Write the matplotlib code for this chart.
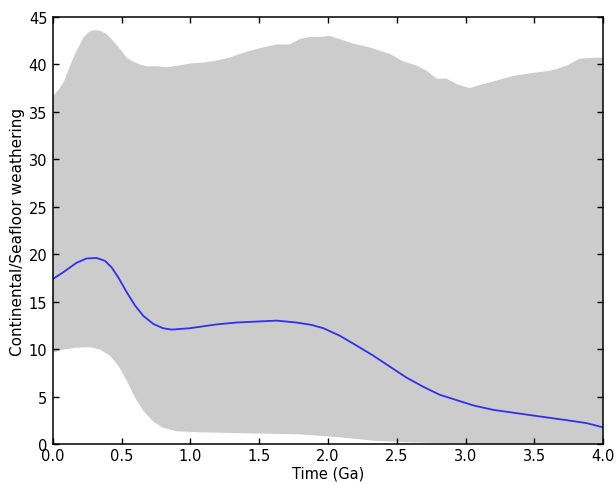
import matplotlib
matplotlib.use("Agg")
import matplotlib.pyplot as plt

# Upper envelope of the weathering ratio (time in Ga, value)
upper_t = [0.0, 0.04, 0.077, 0.11, 0.148, 0.185, 0.22, 0.26, 0.29, 0.318, 0.35, 0.39,
           0.43, 0.46, 0.50, 0.536, 0.584, 0.63, 0.68, 0.75, 0.83, 0.92, 1.0,
           1.10, 1.19, 1.28, 1.36, 1.45, 1.53, 1.63, 1.72, 1.76, 1.80, 1.87, 1.95,
           2.01, 2.10, 2.18, 2.30, 2.45, 2.55, 2.64, 2.72, 2.79, 2.86, 2.94,
           3.03, 3.10, 3.20, 3.35, 3.49, 3.60, 3.66, 3.74, 3.83, 3.93, 4.0]
upper_v = [36.7, 37.3, 38.1, 39.3, 40.7, 41.8, 42.8, 43.4, 43.6, 43.6, 43.5, 43.2,
           42.6, 42.1, 41.4, 40.7, 40.3, 40.0, 39.8, 39.8, 39.7, 39.9, 40.1,
           40.2, 40.4, 40.7, 41.1, 41.5, 41.8, 42.1, 42.1, 42.4, 42.7, 42.9, 42.9,
           43.0, 42.6, 42.2, 41.8, 41.1, 40.3, 39.9, 39.3, 38.5, 38.5, 37.9,
           37.5, 37.8, 38.2, 38.8, 39.1, 39.3, 39.5, 39.9, 40.6, 40.7, 40.7]

# Lower envelope
lower_t = [0.0, 0.075, 0.172, 0.27, 0.342, 0.415, 0.475, 0.536, 0.596, 0.657,
           0.73, 0.80, 0.90, 1.07, 1.43, 1.79, 2.09, 2.33, 2.57, 2.94, 3.2, 4.0]
lower_v = [9.6, 9.95, 10.15, 10.2, 9.95, 9.3, 8.25, 6.7, 4.9, 3.5,
           2.35, 1.7, 1.34, 1.23, 1.12, 1.02, 0.7, 0.35, 0.18, 0.05, 0.0, 0.0]

# Median
median_t = [0.0, 0.075, 0.172, 0.245, 0.318, 0.378, 0.427, 0.475, 0.536, 0.596,
            0.657, 0.73, 0.80, 0.863, 0.996, 1.093, 1.19, 1.336, 1.48, 1.627,
            1.77, 1.88, 1.966, 2.087, 2.21, 2.33, 2.45, 2.57, 2.69, 2.81, 2.94,
            3.06, 3.2, 3.37, 3.54, 3.74, 3.88, 4.0]
median_v = [17.4, 18.1, 19.1, 19.55, 19.6, 19.3, 18.6, 17.55, 16.0, 14.6,
            13.5, 12.65, 12.2, 12.05, 12.2, 12.4, 12.6, 12.8, 12.9, 13.0,
            12.8, 12.55, 12.2, 11.4, 10.35, 9.3, 8.15, 7.0, 6.05, 5.2, 4.6,
            4.05, 3.6, 3.25, 2.9, 2.5, 2.2, 1.75]

x_ticks = [0.0, 0.5, 1.0, 1.5, 2.0, 2.5, 3.0, 3.5, 4.0]
y_ticks = [0, 5, 10, 15, 20, 25, 30, 35, 40, 45]

plt.rcParams["font.family"] = "DejaVu Sans"
fig = plt.figure(figsize=(6.16, 4.85), dpi=100, facecolor="white")
ax = fig.add_axes([0.086, 0.0825, 0.893, 0.8805])

# Shaded band: upper edge left-to-right, lower edge back right-to-left
band_x = upper_t + lower_t[::-1]
band_y = upper_v + lower_v[::-1]
ax.fill(band_x, band_y, color="#cccccc", linewidth=0)
ax.plot(median_t, median_v, color="#3030ee", linewidth=1.3,
        solid_joinstyle="round")

ax.set_xlim(0, 4)
ax.set_ylim(0, 45)
ax.set_xticks(x_ticks)
ax.set_xticklabels([f"{v:.1f}" for v in x_ticks])
ax.set_yticks(y_ticks)
ax.tick_params(direction="in", top=True, right=True, length=4, width=1,
               labelsize=10.5, colors="black")
ax.tick_params(axis="x", pad=3)
ax.tick_params(axis="y", pad=4)
for s in ax.spines.values():
    s.set_linewidth(1.1)
ax.set_xlabel("Time (Ga)", fontsize=10.5, labelpad=2)
ax.set_ylabel("Continental/Seafloor weathering", fontsize=11, labelpad=3)

fig.savefig("out.png", dpi=100, facecolor="white")
